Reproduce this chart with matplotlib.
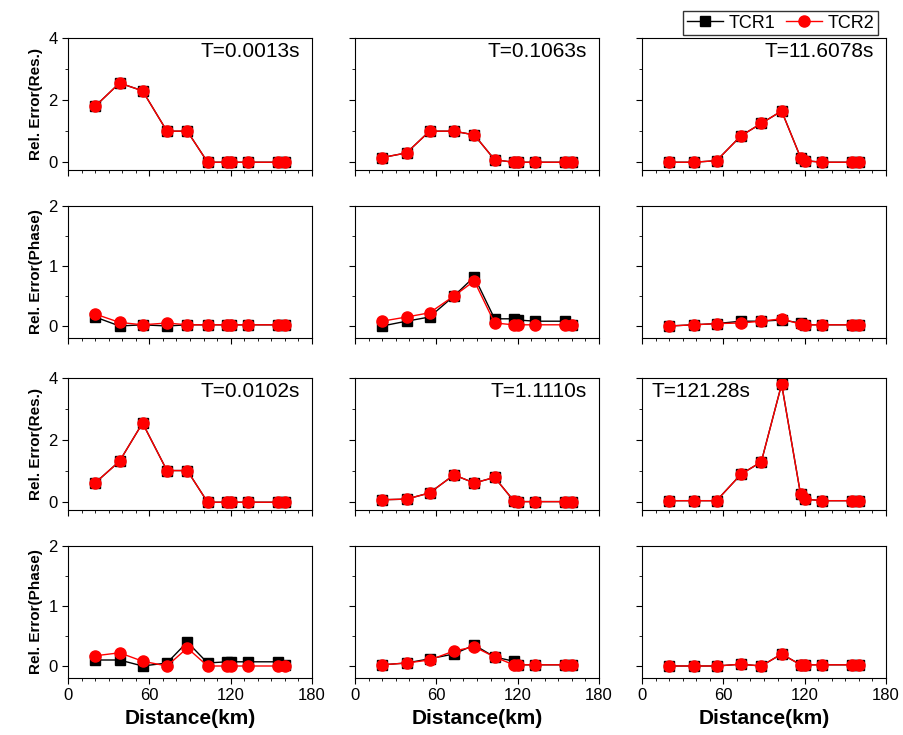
import matplotlib
matplotlib.use('Agg')
import matplotlib.pyplot as plt
from matplotlib.ticker import MultipleLocator

plt.rcParams['font.family'] = ['Liberation Sans', 'DejaVu Sans']

dist = [20, 38, 55, 73, 88, 103, 117, 120, 133, 155, 160]
periods = [['T=0.0013s', 'T=0.1063s', 'T=11.6078s'],
           ['T=0.0102s', 'T=1.1110s', 'T=121.28s']]

# resistivity errors (TCR1 == TCR2 visually)
res_top = [
    [1.8, 2.55, 2.3, 1.0, 1.0, 0, 0, 0, 0, 0, 0],
    [0.15, 0.3, 1.0, 1.0, 0.88, 0.08, 0, 0, 0, 0, 0],
    [0, 0, 0.05, 0.85, 1.25, 1.65, 0.15, 0.05, 0, 0, 0],
]
res_bot = [
    [0.62, 1.32, 2.55, 1.02, 1.02, 0, 0, 0, 0, 0, 0],
    [0.08, 0.1, 0.3, 0.88, 0.62, 0.8, 0.05, 0.02, 0.02, 0.02, 0.02],
    [0.05, 0.05, 0.05, 0.9, 1.3, 3.8, 0.25, 0.1, 0.05, 0.05, 0.05],
]
# phase errors
ph_top_tcr1 = [
    [0.15, 0, 0.02, 0, 0.02, 0.02, 0.02, 0.02, 0.02, 0.02, 0.02],
    [0, 0.08, 0.15, 0.5, 0.82, 0.12, 0.12, 0.1, 0.08, 0.08, 0.02],
    [0, 0.02, 0.04, 0.08, 0.08, 0.1, 0.05, 0.02, 0.02, 0.02, 0.02],
]
ph_top_tcr2 = [
    [0.2, 0.06, 0.02, 0.05, 0.02, 0.02, 0.02, 0.02, 0.02, 0.02, 0.02],
    [0.08, 0.15, 0.22, 0.5, 0.75, 0.05, 0.02, 0.02, 0.02, 0.02, 0.02],
    [0, 0.02, 0.04, 0.05, 0.08, 0.12, 0.03, 0.02, 0.02, 0.02, 0.02],
]
ph_bot_tcr1 = [
    [0.1, 0.1, 0, 0.05, 0.4, 0.05, 0.07, 0.07, 0.07, 0.07, 0.02],
    [0.02, 0.05, 0.12, 0.2, 0.35, 0.15, 0.08, 0.02, 0.02, 0.02, 0.02],
    [0, 0, 0, 0.03, 0, 0.2, 0.02, 0.02, 0.02, 0.02, 0.02],
]
ph_bot_tcr2 = [
    [0.17, 0.22, 0.08, 0, 0.3, 0, 0, 0, 0, 0, 0],
    [0.02, 0.05, 0.1, 0.25, 0.32, 0.15, 0.02, 0.02, 0.02, 0.02, 0.02],
    [0, 0, 0, 0.03, 0, 0.2, 0.02, 0.02, 0.02, 0.02, 0.02],
]

W, H = 904, 735
fig = plt.figure(figsize=(W / 100, H / 100), dpi=100)
col_x = [68, 355, 642]
row_y = [38, 206, 378, 546]
aw, ah = 244, 132

rows = [
    ('res', res_top, res_top, periods[0]),
    ('ph', ph_top_tcr1, ph_top_tcr2, None),
    ('res', res_bot, res_bot, periods[1]),
    ('ph', ph_bot_tcr1, ph_bot_tcr2, None),
]

handles = None
for r, (kind, d1, d2, titles) in enumerate(rows):
    for c in range(3):
        ax = fig.add_axes([col_x[c] / W, 1 - (row_y[r] + ah) / H, aw / W, ah / H])
        l1, = ax.plot(dist, d1[c], 'k-s', lw=1, ms=7, label='TCR1')
        l2, = ax.plot(dist, d2[c], '-o', color='red', lw=1, ms=8, label='TCR2')
        handles = [l1, l2]
        ax.set_xlim(0, 180)
        ax.xaxis.set_major_locator(MultipleLocator(60))
        ax.xaxis.set_minor_locator(MultipleLocator(10))
        if kind == 'res':
            ax.set_ylim(-0.25, 4)
            ax.yaxis.set_major_locator(MultipleLocator(2))
            ax.yaxis.set_minor_locator(MultipleLocator(1))
            ylab = 'Rel. Error(Res.)'
        else:
            ax.set_ylim(-0.2, 2)
            ax.yaxis.set_major_locator(MultipleLocator(1))
            ax.yaxis.set_minor_locator(MultipleLocator(0.5))
            ylab = 'Rel. Error(Phase)'
        ax.tick_params(which='major', direction='out', length=4, labelsize=12)
        ax.tick_params(which='minor', direction='out', length=2)
        if c == 0:
            ax.set_ylabel(ylab, fontsize=11, fontweight='bold')
        else:
            ax.set_yticklabels([])
        if r == 3:
            ax.set_xlabel('Distance(km)', fontsize=15, fontweight='bold')
        else:
            ax.set_xticklabels([])
        if titles:
            if r == 2 and c == 2:
                ax.text(0.04, 0.9, titles[c], transform=ax.transAxes, fontsize=15, va='center')
            else:
                ax.text(0.95, 0.9, titles[c], transform=ax.transAxes, fontsize=15, ha='right', va='center')

fig.legend(handles=handles, labels=['TCR1', 'TCR2'], loc='upper right',
           bbox_to_anchor=(887 / W, 1 - 2 / H), ncol=2, fontsize=13, frameon=True,
           fancybox=False, edgecolor='black', handlelength=2, columnspacing=0.6,
           handletextpad=0.3, borderpad=0.2)
fig.savefig('out.png', dpi=100)
